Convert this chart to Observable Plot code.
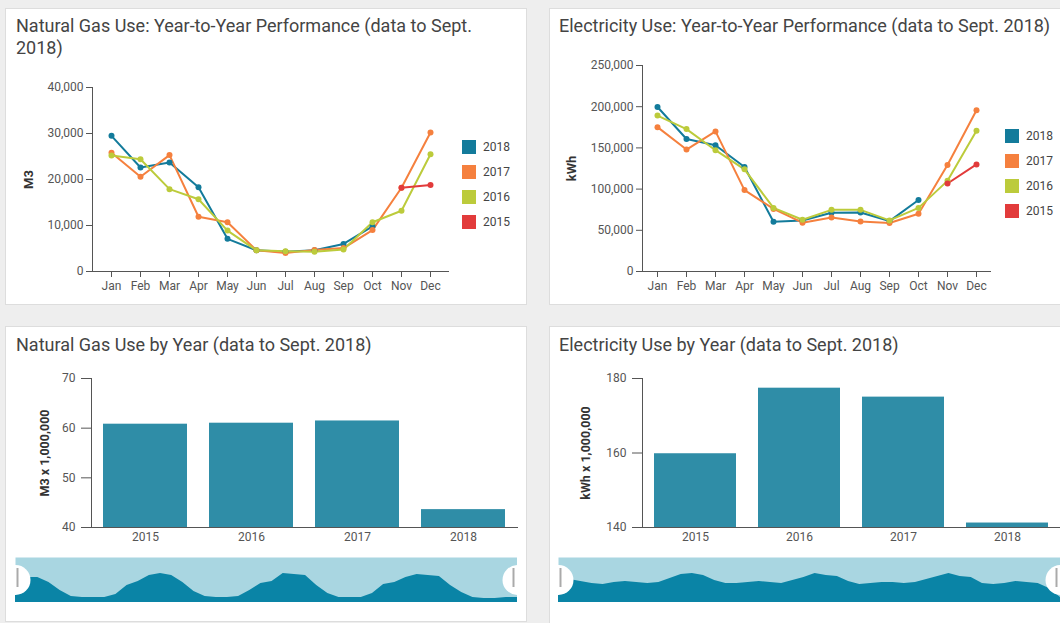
<!DOCTYPE html>
<html>
<head>
<meta charset="utf-8">
<script src="https://cdn.jsdelivr.net/npm/d3@7"></script>
<script src="https://cdn.jsdelivr.net/npm/@observablehq/plot@0.6"></script>
<style>
  html, body { margin: 0; padding: 0; }
  body { width: 1060px; height: 623px; overflow: hidden; position: relative; background: #eeeeee; font-family: Roboto, "Open Sans", sans-serif; }
  .card { position: absolute; background: #ffffff; border: 1px solid #dddddd; box-sizing: border-box; }
  .abs { position: absolute; }
  .title { position: absolute; font-size: 18px; line-height: 22px; color: #444444; font-weight: 400; white-space: nowrap; }
  .sw { position: absolute; width: 14px; height: 14px; }
  .lg { position: absolute; font-size: 12px; line-height: 14px; color: #444; }
</style>
</head>
<body>
<script>
// ---------- data ----------
const months = ["Jan","Feb","Mar","Apr","May","Jun","Jul","Aug","Sep","Oct","Nov","Dec"];
const years = ["2018","2017","2016","2015"];
const yearColors = ["#137b9b","#f5803e","#bccb3b","#e23b3b"];

// Natural gas, monthly (M3)
const gas2018 = [29500, 22600, 23700, 18300, 7100, 4600, 4300, 4600, 6000, 9800, null, null];
const gas2017 = [25800, 20600, 25300, 11900, 10700, 4600, 4000, 4700, 5100, 9000, 18200, 30200];
const gas2016 = [25200, 24400, 17900, 15700, 8900, 4600, 4400, 4300, 4800, 10700, 13200, 25500];
const gas2015 = [null, null, null, null, null, null, null, null, null, null, 18200, 18800];
const gasTicks = [0, 10000, 20000, 30000, 40000];

// Electricity, monthly (kWh)
const elec2018 = [199600, 160800, 153200, 126800, 60400, 62000, 71200, 71600, 61200, 86800, null, null];
const elec2017 = [175200, 148000, 170000, 98800, 76000, 59200, 65600, 60800, 58800, 70000, 129200, 195600];
const elec2016 = [189200, 172800, 147200, 124000, 77200, 62800, 74800, 74800, 62000, 77200, 110000, 170800];
const elec2015 = [null, null, null, null, null, null, null, null, null, null, 106800, 130000];
const elecTicks = [0, 50000, 100000, 150000, 200000, 250000];

// Totals by year (x 1,000,000)
const barYears = ["2015","2016","2017","2018"];
const gasByYear = [60.8, 61.0, 61.45, 43.6];
const elecByYear = [159.8, 177.4, 175.0, 141.2];
const gasBarTicks = [40, 50, 60, 70];
const elecBarTicks = [140, 160, 180];

// Navigator overview series (monthly, Jan 2015 - Oct 2018, relative units)
const navGas = [25,25,25,20,12,6,5,5,5,8,17,21,27,29,27,20,11,6,5,5,6,12,19,21,29,28,27,17,9,5,5,5,9,18,20,25,28,27,26,17,10,5,4,4,5,5];
const navElec = [25,23,21,19,18,20,21,20,19,20,24,28,29,27,22,19,19,20,21,20,19,22,25,29,27,26,21,18,19,20,20,19,20,23,26,29,26,25,19,18,19,21,20,19,14,5];

// ---------- helpers ----------
const axisStyle = {background: "transparent", fontFamily: "Roboto, sans-serif", fontSize: "12px", color: "#555", overflow: "visible"};
function longData(series) {
  return years.flatMap((yr, k) => series[k].map((v, i) => ({year: yr, month: months[i], value: v})).filter(d => d.value != null));
}
function card(l, t, w, h) {
  const d = document.createElement("div"); d.className = "card";
  Object.assign(d.style, {left: l + "px", top: t + "px", width: w + "px", height: h + "px"});
  document.body.appendChild(d);
}
function place(el, l, t) {
  const d = document.createElement("div"); d.className = "abs";
  d.style.left = l + "px"; d.style.top = t + "px";
  d.appendChild(el); document.body.appendChild(d);
}
function title(html, l, t) {
  const d = document.createElement("div"); d.className = "title";
  d.style.left = l + "px"; d.style.top = t + "px"; d.innerHTML = html;
  document.body.appendChild(d);
}
function legend(l, t, gap) {
  years.forEach((yr, k) => {
    const s = document.createElement("div"); s.className = "sw";
    s.style.left = l + "px"; s.style.top = (t + k * gap) + "px"; s.style.background = yearColors[k];
    document.body.appendChild(s);
    const tx = document.createElement("div"); tx.className = "lg";
    tx.style.left = (l + 21) + "px"; tx.style.top = (t + k * gap) + "px"; tx.textContent = yr;
    document.body.appendChild(tx);
  });
}

// ---------- cards ----------
card(5, 8, 522, 297);
card(549, 8, 530, 297);
card(5, 326, 522, 296);
card(549, 326, 530, 300);

// ---------- line charts ----------
function lineChart(data, ticks, yMax, label, w, h, m, labelOffset) {
  return Plot.plot({
    width: w, height: h,
    marginLeft: m[0], marginRight: m[1], marginTop: m[2], marginBottom: m[3],
    style: axisStyle,
    x: {type: "point", domain: months, padding: 0.5, label: null, tickSize: 6, tickPadding: 4, line: true},
    y: {domain: [0, yMax], ticks: ticks, tickFormat: d3.format(","), label: null, tickSize: 6, tickPadding: 3, line: true},
    color: {domain: years, range: yearColors},
    marks: [
      Plot.line(data, {x: "month", y: "value", z: "year", stroke: "year", strokeWidth: 2}),
      Plot.dot(data, {x: "month", y: "value", fill: "year", r: 3}),
      Plot.text([label], {frameAnchor: "left", textAnchor: "middle", rotate: -90, dx: -labelOffset, fontWeight: "bold", fontSize: 13, fill: "#333"})
    ]
  });
}

title("Natural Gas Use: Year-to-Year Performance (data to Sept.<br>2018)", 16, 15);
place(lineChart(longData([gas2018, gas2017, gas2016, gas2015]), gasTicks, 40000, "M3", 522, 240, [87, 79, 27, 29], 64), 5, 60);
legend(462, 140, 25);

title("Electricity Use: Year-to-Year Performance (data to Sept. 2018)", 559, 15);
place(lineChart(longData([elec2018, elec2017, elec2016, elec2015]), elecTicks, 250000, "kWh", 511, 260, [93, 70, 25, 29], 71), 549, 40);
legend(1005, 129, 25);

// ---------- bar charts ----------
function barChart(values, ticks, label, w, m, labelOffset) {
  const data = barYears.map((y, i) => ({year: y, value: values[i]}));
  return Plot.plot({
    width: w, height: 190,
    marginLeft: m[0], marginRight: m[1], marginTop: 18, marginBottom: 23,
    style: axisStyle,
    x: {type: "band", domain: barYears, paddingInner: 0.21, paddingOuter: 0.105, label: null, tickSize: 0, tickPadding: 5, line: true},
    y: {domain: [ticks[0], ticks[ticks.length - 1]], ticks: ticks, label: null, tickSize: 10, tickPadding: 6, line: true},
    marks: [
      Plot.barY(data, {x: "year", y1: ticks[0], y2: "value", fill: "#2f8da7"}),
      Plot.text([label], {frameAnchor: "left", textAnchor: "middle", rotate: -90, dx: -labelOffset, fontWeight: "bold", fontSize: 12.5, fill: "#333"})
    ]
  });
}

title("Natural Gas Use by Year (data to Sept. 2018)", 16, 334);
place(barChart(gasByYear, gasBarTicks, "M3 x 1,000,000", 522, [86, 10], 47), 5, 360);

title("Electricity Use by Year (data to Sept. 2018)", 559, 334);
place(barChart(elecByYear, elecBarTicks, "kWh x 1,000,000", 511, [93, 0], 57), 549, 360);

// ---------- navigators ----------
function navigator(values, w) {
  const data = values.map((v, i) => ({i, v}));
  const last = values.length - 1;
  return Plot.plot({
    width: w, height: 45, margin: 0,
    style: {background: "transparent", overflow: "hidden"},
    x: {domain: [0, last], axis: null},
    y: {domain: [0, 45], axis: null},
    marks: [
      Plot.frame({fill: "#a9d6e1", stroke: null}),
      Plot.areaY(data, {x: "i", y: "v", fill: "#0a84a6"}),
      Plot.dot([0, last], {x: d => d, r: 15, fill: "#ffffff", clip: true}),
      Plot.ruleX([0], {x: d => d, dx: 2, insetTop: 11, insetBottom: 15, stroke: "#aaaaaa", strokeWidth: 2}),
      Plot.ruleX([last], {x: d => d, dx: -4, insetTop: 11, insetBottom: 15, stroke: "#aaaaaa", strokeWidth: 2})
    ]
  });
}
place(navigator(navGas, 502), 15, 557);
place(navigator(navElec, 502), 558, 557);
</script>
</body>
</html>
